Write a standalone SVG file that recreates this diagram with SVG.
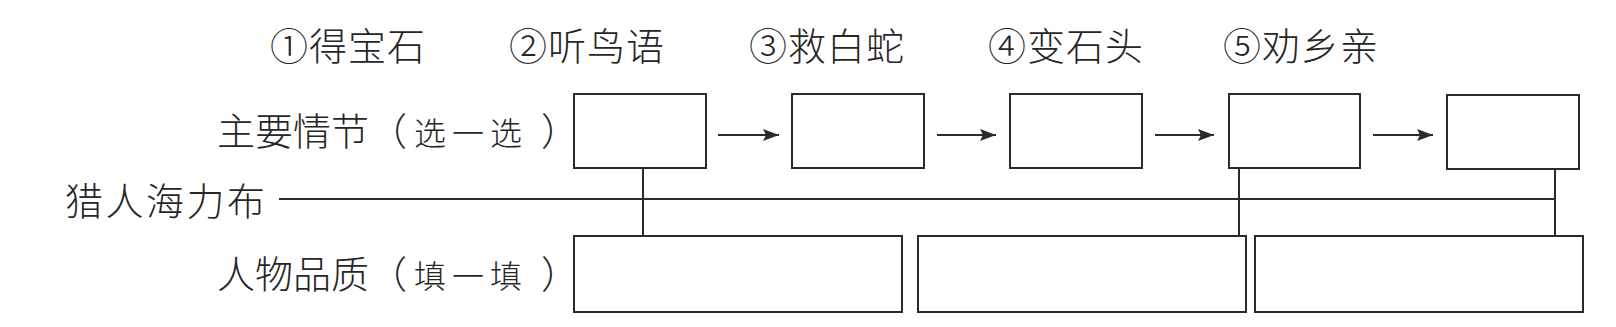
<svg xmlns="http://www.w3.org/2000/svg" width="1616" height="327" viewBox="0 0 1616 327">
<defs>
<style>
.t{font-family:"Noto Sans CJK SC","Noto Sans CJK TC",sans-serif;font-size:38px;fill:#262626;font-weight:300}
.s{font-size:32px}
.b{fill:#fff;stroke:#2b2b2b;stroke-width:2}
.c{stroke:#2b2b2b;stroke-width:2;fill:none}
</style>
<marker id="ah" viewBox="0 0 16 12" refX="16" refY="6" markerWidth="16" markerHeight="12" markerUnits="userSpaceOnUse" orient="auto">
<path d="M0,0 L16,6 L0,12 L3,6 Z" fill="#2b2b2b"/>
</marker>
</defs>
<rect width="1616" height="327" fill="#fff"/>
<g id="options">
<text class="t" x="270" y="60" letter-spacing="1">①得宝石</text>
<text class="t" x="509" y="60" letter-spacing="1">②听鸟语</text>
<text class="t" x="749" y="60" letter-spacing="1">③救白蛇</text>
<text class="t" x="988" y="60" letter-spacing="1">④变石头</text>
<text class="t" x="1223" y="60" letter-spacing="1">⑤劝乡亲</text>
</g>
<g id="label-plot">
<text class="t" y="145"><tspan x="217">主要情节</tspan><tspan x="369">（</tspan><tspan class="s" x="414" letter-spacing="6">选一选</tspan><tspan x="541">）</tspan></text>
</g>
<g id="label-hero"><text class="t" x="65" y="215" letter-spacing="2.5">猎人海力布</text></g>
<g id="label-quality">
<text class="t" y="288"><tspan x="217">人物品质</tspan><tspan x="369">（</tspan><tspan class="s" x="414" letter-spacing="6">填一填</tspan><tspan x="541">）</tspan></text>
</g>
<g id="plot1"><rect class="b" x="574" y="94" width="132" height="74"/></g>
<g id="plot2"><rect class="b" x="792" y="94" width="132" height="74"/></g>
<g id="plot3"><rect class="b" x="1010" y="94" width="132" height="74"/></g>
<g id="plot4"><rect class="b" x="1229" y="94" width="131" height="74"/></g>
<g id="plot5"><rect class="b" x="1447" y="95" width="132" height="74"/></g>
<g id="quality1"><rect class="b" x="574" y="236" width="328" height="76"/></g>
<g id="quality2"><rect class="b" x="918" y="236" width="328" height="76"/></g>
<g id="quality3"><rect class="b" x="1255" y="236" width="328" height="76"/></g>
<g id="connectors">
<line class="c" x1="718" y1="135" x2="779" y2="135" marker-end="url(#ah)"/>
<line class="c" x1="937" y1="135" x2="996" y2="135" marker-end="url(#ah)"/>
<line class="c" x1="1155" y1="135" x2="1214" y2="135" marker-end="url(#ah)"/>
<line class="c" x1="1373" y1="135" x2="1433" y2="135" marker-end="url(#ah)"/>
<line class="c" x1="279" y1="199" x2="1555" y2="199"/>
<line class="c" x1="643" y1="168" x2="643" y2="236"/>
<line class="c" x1="1239" y1="168" x2="1239" y2="236"/>
<line class="c" x1="1555" y1="169" x2="1555" y2="236"/>
</g>
</svg>
